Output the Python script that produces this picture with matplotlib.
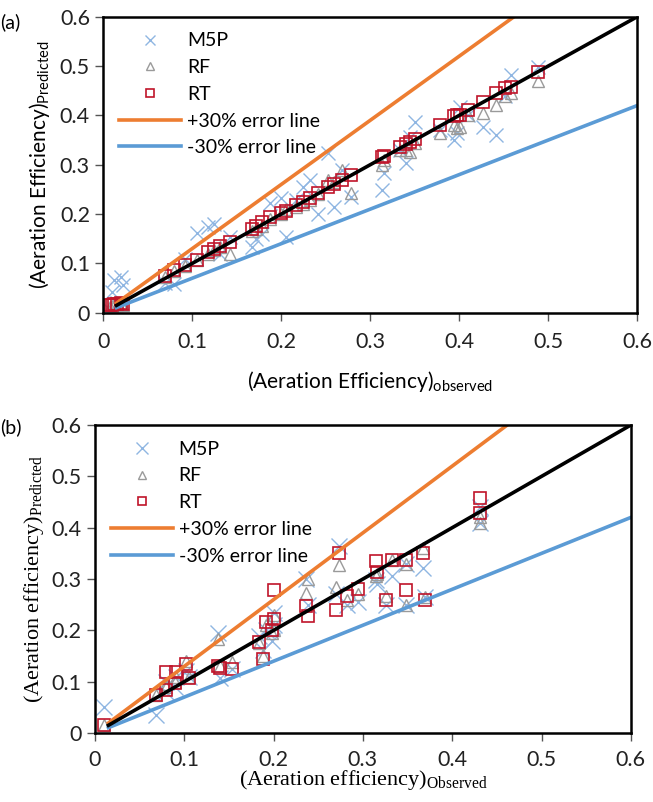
import matplotlib
matplotlib.use('Agg')
import matplotlib.pyplot as plt

# ---- panel (a) data: observed vs predicted aeration efficiency ----
obs_a = [0.008, 0.010, 0.012, 0.015, 0.020, 0.022, 0.070, 0.080, 0.092, 0.105, 0.118,
         0.125, 0.131, 0.142, 0.167, 0.172, 0.178, 0.187, 0.200, 0.205, 0.217, 0.225,
         0.232, 0.242, 0.253, 0.260, 0.268, 0.278, 0.313, 0.316, 0.334, 0.340, 0.345,
         0.351, 0.379, 0.394, 0.398, 0.401, 0.410, 0.427, 0.442, 0.452, 0.458, 0.489]
rt_a = [0.015, 0.016, 0.017, 0.018, 0.019, 0.018, 0.074, 0.086, 0.096, 0.108, 0.123,
        0.130, 0.135, 0.144, 0.169, 0.176, 0.184, 0.195, 0.203, 0.206, 0.218, 0.225,
        0.232, 0.242, 0.255, 0.262, 0.269, 0.279, 0.316, 0.318, 0.337, 0.342, 0.347,
        0.352, 0.381, 0.398, 0.400, 0.401, 0.411, 0.428, 0.445, 0.455, 0.458, 0.489]
rf_a = [0.012, 0.014, 0.015, 0.016, 0.017, 0.016, 0.072, 0.084, 0.094, 0.106, 0.120,
        0.128, 0.133, 0.120, 0.165, 0.170, 0.176, 0.190, 0.200, 0.210, 0.215, 0.220,
        0.228, 0.240, 0.270, 0.265, 0.290, 0.242, 0.300, 0.310, 0.330, 0.330, 0.325,
        0.345, 0.364, 0.380, 0.375, 0.377, 0.400, 0.405, 0.421, 0.440, 0.445, 0.470]
m5p_a = [0.005, 0.042, 0.066, 0.020, 0.073, 0.056, 0.060, 0.059, 0.110, 0.161, 0.174,
         0.181, 0.120, 0.154, 0.134, 0.150, 0.160, 0.222, 0.232, 0.154, 0.228, 0.255,
         0.269, 0.200, 0.323, 0.215, 0.290, 0.235, 0.249, 0.283, 0.330, 0.303, 0.357,
         0.387, 0.370, 0.350, 0.364, 0.418, 0.400, 0.377, 0.360, 0.440, 0.482, 0.499]

# ---- panel (b) data ----
obs_b = [0.010, 0.068, 0.080, 0.080, 0.090, 0.091, 0.102, 0.105, 0.138, 0.140, 0.153,
         0.184, 0.188, 0.192, 0.198, 0.200, 0.200, 0.236, 0.239, 0.270, 0.273, 0.282,
         0.294, 0.315, 0.316, 0.326, 0.333, 0.348, 0.348, 0.367, 0.370, 0.431, 0.431]
rt_b = [0.016, 0.074, 0.084, 0.118, 0.097, 0.118, 0.134, 0.107, 0.131, 0.127, 0.124,
        0.178, 0.144, 0.216, 0.200, 0.222, 0.279, 0.248, 0.228, 0.240, 0.351, 0.266,
        0.280, 0.336, 0.314, 0.259, 0.337, 0.337, 0.279, 0.351, 0.259, 0.457, 0.428]
rf_b = [0.015, 0.075, 0.090, 0.095, 0.100, 0.110, 0.140, 0.110, 0.184, 0.130, 0.139,
        0.175, 0.150, 0.210, 0.195, 0.200, 0.230, 0.272, 0.300, 0.285, 0.327, 0.260,
        0.270, 0.305, 0.310, 0.266, 0.337, 0.330, 0.250, 0.360, 0.265, 0.420, 0.410]
m5p_b = [0.051, 0.035, 0.080, 0.100, 0.090, 0.110, 0.120, 0.110, 0.194, 0.107, 0.125,
         0.190, 0.162, 0.200, 0.180, 0.233, 0.210, 0.300, 0.250, 0.270, 0.365, 0.250,
         0.256, 0.298, 0.290, 0.250, 0.305, 0.330, 0.250, 0.321, 0.265, 0.440, 0.410]

# reference lines (1:1, +30 %, -30 %)
line_x = [0.015, 0.6]
ticks = [0, 0.1, 0.2, 0.3, 0.4, 0.5, 0.6]
tick_labels = ['0', '0.1', '0.2', '0.3', '0.4', '0.5', '0.6']

blue_x = '#8fb6e2'
grey_t = '#9a9a9a'
red_s = '#c0142a'
orange = '#ed7d31'
blue_l = '#5b9bd5'
sans = 'Lato'
serif = 'Liberation Serif'

fig = plt.figure(figsize=(6.53, 8.02), dpi=100)
ax1 = fig.add_axes([0.158, 0.610, 0.8175, 0.369])
ax2 = fig.add_axes([0.1455, 0.086, 0.8205, 0.384])


def draw(ax, obs, m5p, rf, rt, msq, mx, pad):
    ax.plot(obs, m5p, 'x', color=blue_x, ms=mx, mew=1.0, label='M5P')
    ax.plot(obs, rf, '^', mfc='none', mec=grey_t, ms=msq, mew=1.0, label='RF')
    ax.plot(obs, rt, 's', mfc='none', mec=red_s, ms=msq, mew=1.2, label='RT')
    ax.plot(line_x, [1.3 * v for v in line_x], color=orange, lw=2.6, label='+30% error line')
    ax.plot(line_x, [0.7 * v for v in line_x], color=blue_l, lw=2.6, label='-30% error line')
    ax.plot(line_x, line_x, color='black', lw=2.6)
    ax.set_xlim(0, 0.6)
    ax.set_ylim(0, 0.6)
    ax.set_xticks(ticks)
    ax.set_yticks(ticks)
    ax.set_xticklabels(tick_labels, family=sans, fontsize=15.5)
    ax.set_yticklabels(tick_labels, family=sans, fontsize=15.5)
    ax.tick_params(direction='out', length=6, width=1, colors='#555555', labelcolor='#222222')
    ax.tick_params(axis='x', pad=pad)
    for s in ax.spines.values():
        s.set_linewidth(1.8)
    leg = ax.legend(loc='upper left', frameon=False, prop={'family': sans, 'size': 14},
                    handlelength=3.2, markerscale=0.75, borderaxespad=0.4, labelspacing=0.5,
                    handletextpad=0.3)
    return leg


draw(ax1, obs_a, m5p_a, rf_a, rt_a, 8, 10, 8)
draw(ax2, obs_b, m5p_b, rf_b, rt_b, 8, 11, 6)

ax1.set_xlabel(r'(Aeration Efficiency)$_{\mathregular{observed}}$', family=sans, fontsize=15, labelpad=12)
ax1.set_ylabel(r'(Aeration Efficiency)$_{\mathregular{Predicted}}$', family=sans, fontsize=15, labelpad=6)
ax2.set_xlabel(r'(Aeration efficiency)$_{\mathregular{Observed}}$', family=serif, fontsize=16, labelpad=-1)
ax2.set_ylabel(r'(Aeration efficiency)$_{\mathregular{Predicted}}$', family=serif, fontsize=16, labelpad=4)

fig.text(0.0, 0.984, '(a)', family=sans, fontsize=14, va='top')
fig.text(0.0, 0.478, '(b)', family=sans, fontsize=14, va='top')

fig.savefig('out.png', dpi=100)
